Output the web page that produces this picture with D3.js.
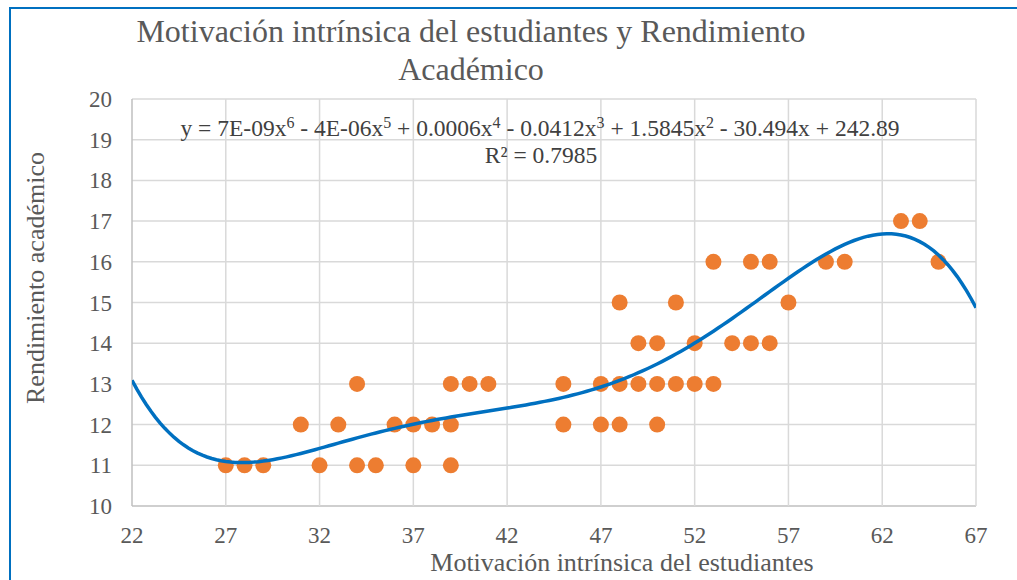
<!DOCTYPE html>
<html>
<head>
<meta charset="utf-8">
<script src="https://cdn.jsdelivr.net/npm/d3@7"></script>
<style>
  body { margin: 0; background: #fff; }
  text { font-family: "Liberation Serif", "Times New Roman", serif; fill: #595959; }
</style>
</head>
<body>
<svg width="1017" height="580"></svg>
<script>
// motivation scores (x) and grades (y)
var motivacion = [27, 28, 29, 32, 34, 35, 37, 39,
                  31, 33, 36, 37, 38, 39, 45, 47, 48, 50,
                  34, 39, 40, 41, 45, 47, 48, 49, 50, 51, 52, 53,
                  49, 50, 52, 54, 55, 56,
                  48, 51, 57,
                  53, 55, 56, 59, 60, 65,
                  63, 64];
var rendimiento = [11, 11, 11, 11, 11, 11, 11, 11,
                   12, 12, 12, 12, 12, 12, 12, 12, 12, 12,
                   13, 13, 13, 13, 13, 13, 13, 13, 13, 13, 13, 13,
                   14, 14, 14, 14, 14, 14,
                   15, 15, 15,
                   16, 16, 16, 16, 16, 16,
                   17, 17];
// polynomial trendline at some x positions
var trendX = [22, 23, 24, 25.5, 27, 28, 29.5, 32, 33.5, 36, 38, 42, 45.3, 47, 52, 56.5, 58.3, 60.1, 61.2, 62, 62.5, 63.6, 65, 66.1, 67];
var trendY = [13.0, 12.42, 11.84, 11.33, 11.06, 11.02, 11.09, 11.42, 11.64, 11.93, 12.11, 12.40, 12.70, 12.93, 13.98, 15.42, 15.96, 16.45, 16.66, 16.76, 16.77, 16.56, 16.0, 15.51, 14.98];
var xTicks = [22, 27, 32, 37, 42, 47, 52, 57, 62, 67];
var yTicks = [10, 11, 12, 13, 14, 15, 16, 17, 18, 19, 20];

var svg = d3.select("svg");
var plotL = 132, plotR = 976, plotT = 99, plotB = 506;

var x = d3.scaleLinear().domain([22, 67]).range([plotL, plotR]);
var y = d3.scaleLinear().domain([10, 20]).range([plotB, plotT]);

// chart frame
svg.append("rect")
    .attr("x", 10).attr("y", 8)
    .attr("width", 1030).attr("height", 600)
    .attr("fill", "none").attr("stroke", "#0070C0").attr("stroke-width", 2);

// gridlines
svg.append("g").selectAll("line").data(yTicks).enter().append("line")
    .attr("x1", plotL).attr("x2", plotR)
    .attr("y1", function(d) { return y(d); }).attr("y2", function(d) { return y(d); })
    .attr("stroke", function(d) { return d == 10 ? "#bfbfbf" : "#d9d9d9"; })
    .attr("stroke-width", 1.5);
svg.append("g").selectAll("line").data(xTicks).enter().append("line")
    .attr("y1", plotT).attr("y2", plotB)
    .attr("x1", function(d) { return x(d); }).attr("x2", function(d) { return x(d); })
    .attr("stroke", function(d) { return d == 22 ? "#bfbfbf" : "#d9d9d9"; })
    .attr("stroke-width", 1.5);

// tick labels
svg.append("g").selectAll("text").data(yTicks).enter().append("text")
    .attr("x", 112).attr("y", function(d) { return y(d) + 8; })
    .attr("text-anchor", "end").style("font-size", "23px")
    .text(function(d) { return d; });
svg.append("g").selectAll("text").data(xTicks).enter().append("text")
    .attr("x", function(d) { return x(d); }).attr("y", 543)
    .attr("text-anchor", "middle").style("font-size", "23px")
    .text(function(d) { return d; });

// smooth 6th order polynomial through the read trend values (least squares)
function polyFit(xs, ys, deg) {
    var n = deg + 1, A = [], b = [];
    for (var i = 0; i < n; i++) { A.push(new Array(n).fill(0)); b.push(0); }
    xs.forEach(function(xv, k) {
        var t = (xv - 44.5) / 22.5;
        for (var i = 0; i < n; i++) {
            b[i] += Math.pow(t, i) * ys[k];
            for (var j = 0; j < n; j++) A[i][j] += Math.pow(t, i + j);
        }
    });
    for (var c = 0; c < n; c++) {
        var p = c;
        for (var r = c + 1; r < n; r++) if (Math.abs(A[r][c]) > Math.abs(A[p][c])) p = r;
        var tmp = A[c]; A[c] = A[p]; A[p] = tmp;
        var tb = b[c]; b[c] = b[p]; b[p] = tb;
        for (var r = c + 1; r < n; r++) {
            var f = A[r][c] / A[c][c];
            for (var j = c; j < n; j++) A[r][j] -= f * A[c][j];
            b[r] -= f * b[c];
        }
    }
    var coef = new Array(n).fill(0);
    for (var i = n - 1; i >= 0; i--) {
        var s = b[i];
        for (var j = i + 1; j < n; j++) s -= A[i][j] * coef[j];
        coef[i] = s / A[i][i];
    }
    return function(xv) {
        var t = (xv - 44.5) / 22.5, s = 0;
        for (var i = 0; i < n; i++) s += coef[i] * Math.pow(t, i);
        return s;
    };
}
var trend = polyFit(trendX, trendY, 6);
var curve = d3.range(22, 67.01, 0.25).map(function(d) { return [d, trend(d)]; });

svg.append("clipPath").attr("id", "plot").append("rect")
    .attr("x", plotL).attr("y", plotT).attr("width", plotR - plotL).attr("height", plotB - plotT);

// points
svg.append("g").selectAll("circle").data(motivacion).enter().append("circle")
    .attr("cx", function(d) { return x(d); })
    .attr("cy", function(d, i) { return y(rendimiento[i]); })
    .attr("r", 8)
    .attr("fill", "#ED7D31");

svg.append("path")
    .datum(curve)
    .attr("clip-path", "url(#plot)")
    .attr("fill", "none").attr("stroke", "#0070C0").attr("stroke-width", 3.5)
    .attr("d", d3.line().x(function(d) { return x(d[0]); }).y(function(d) { return y(d[1]); }));

// equation label
var eq = svg.append("text").attr("x", 540).attr("y", 136)
    .attr("text-anchor", "middle").style("font-size", "23.5px").style("fill", "#404040");
function sup(s) { eq.append("tspan").attr("dy", -8).style("font-size", "16px").text(s); }
function base(s) { eq.append("tspan").attr("dy", 8).text(s); }
eq.append("tspan").text("y = 7E-09x"); sup("6");
base(" - 4E-06x"); sup("5");
base(" + 0.0006x"); sup("4");
base(" - 0.0412x"); sup("3");
base(" + 1.5845x"); sup("2");
base(" - 30.494x + 242.89");
svg.append("text").attr("x", 541).attr("y", 163)
    .attr("text-anchor", "middle").style("font-size", "23.5px").style("fill", "#404040")
    .text("R² = 0.7985");

// titles
svg.append("text").attr("x", 471).attr("y", 42).attr("text-anchor", "middle")
    .style("font-size", "32px").text("Motivación intrínsica del estudiantes y Rendimiento");
svg.append("text").attr("x", 471).attr("y", 80).attr("text-anchor", "middle")
    .style("font-size", "32px").text("Académico");
svg.append("text").attr("x", 622).attr("y", 571).attr("text-anchor", "middle")
    .style("font-size", "26px").text("Motivación intrínsica del estudiantes");
svg.append("text").attr("transform", "translate(44,278) rotate(-90)")
    .attr("text-anchor", "middle").style("font-size", "26px").text("Rendimiento académico");
</script>
</body>
</html>
